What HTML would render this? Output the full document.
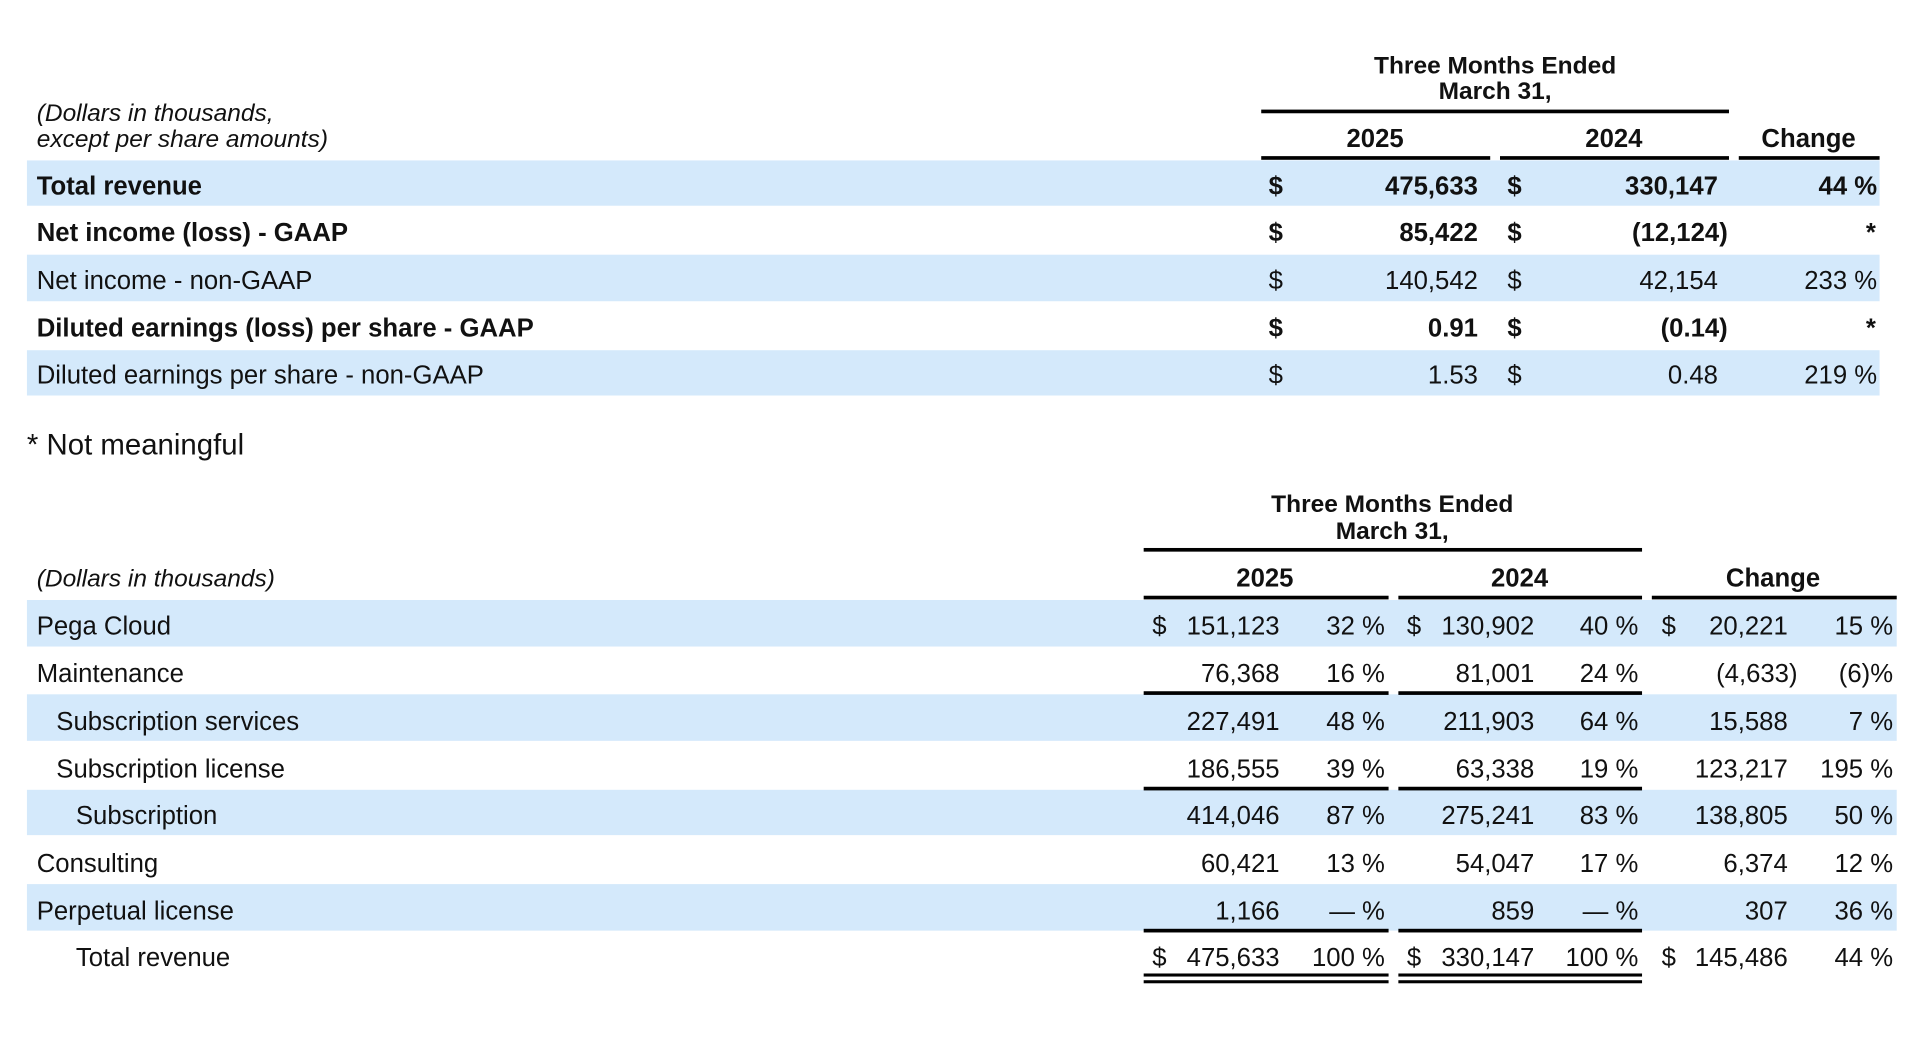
<!DOCTYPE html>
<html><head><meta charset="utf-8"><style>
html,body{margin:0;padding:0;background:#fff;width:1920px;height:1039px;overflow:hidden}
svg{display:block}
text{font-family:"Liberation Sans",sans-serif;font-size:21px;fill:#111}
.b{font-weight:bold}
.i{font-style:italic}
.e{text-anchor:end}
.m{text-anchor:middle}
</style></head><body>
<svg width="1920" height="1039" viewBox="0 0 1568 848.5" preserveAspectRatio="none">
<g fill="#d4e9fb">
<rect x="22" y="131" width="1513" height="37"/>
<rect x="22" y="208" width="1513" height="38"/>
<rect x="22" y="286" width="1513" height="37"/>
<rect x="22" y="490" width="1527" height="38"/>
<rect x="22" y="567" width="1527" height="38"/>
<rect x="22" y="645" width="1527" height="37"/>
<rect x="22" y="722" width="1527" height="38"/>
</g>
<g fill="#000">
<rect x="1030" y="89.5" width="382" height="3"/>
<rect x="1030" y="127.5" width="187" height="3"/>
<rect x="1225" y="127.5" width="187" height="3"/>
<rect x="1420" y="127.5" width="115" height="3"/>
<rect x="934" y="447.5" width="407" height="3"/>
<rect x="934" y="486.5" width="200" height="3"/>
<rect x="1142" y="486.5" width="199" height="3"/>
<rect x="1349" y="486.5" width="200" height="3"/>
<rect x="934" y="564.5" width="200" height="3"/>
<rect x="1142" y="564.5" width="199" height="3"/>
<rect x="934" y="642.5" width="200" height="3"/>
<rect x="1142" y="642.5" width="199" height="3"/>
<rect x="934" y="758.5" width="200" height="3"/>
<rect x="1142" y="758.5" width="199" height="3"/>
<rect x="934" y="795" width="200" height="2.5"/>
<rect x="1142" y="795" width="199" height="2.5"/>
<rect x="934" y="800.5" width="200" height="2.5"/>
<rect x="1142" y="800.5" width="199" height="2.5"/>
</g>
<text class="b m" x="1221" y="60" style="font-size:20px">Three Months Ended</text>
<text class="b m" x="1221" y="81" style="font-size:20px">March 31,</text>
<text class="i" x="30" y="99" style="font-size:20px">(Dollars in thousands,</text>
<text class="i" x="30" y="120" style="font-size:20px">except per share amounts)</text>
<text class="b m" x="1123" y="120">2025</text>
<text class="b m" x="1318" y="120">2024</text>
<text class="b m" x="1477" y="120">Change</text>

<text class="b" x="30" y="159">Total revenue</text>
<text class="b" x="1036" y="159">$</text><text class="b e" x="1207" y="159">475,633</text>
<text class="b" x="1231" y="159">$</text><text class="b e" x="1403" y="159">330,147</text>
<text class="b e" x="1533" y="159">44 %</text>

<text class="b" x="30" y="197">Net income (loss) - GAAP</text>
<text class="b" x="1036" y="197">$</text><text class="b e" x="1207" y="197">85,422</text>
<text class="b" x="1231" y="197">$</text><text class="b e" x="1411" y="197">(12,124)</text>
<text class="b e" x="1532" y="197">*</text>

<text x="30" y="236">Net income - non-GAAP</text>
<text x="1036" y="236">$</text><text class="e" x="1207" y="236">140,542</text>
<text x="1231" y="236">$</text><text class="e" x="1403" y="236">42,154</text>
<text class="e" x="1533" y="236">233 %</text>

<text class="b" x="30" y="275">Diluted earnings (loss) per share - GAAP</text>
<text class="b" x="1036" y="275">$</text><text class="b e" x="1207" y="275">0.91</text>
<text class="b" x="1231" y="275">$</text><text class="b e" x="1411" y="275">(0.14)</text>
<text class="b e" x="1532" y="275">*</text>

<text x="30" y="313">Diluted earnings per share - non-GAAP</text>
<text x="1036" y="313">$</text><text class="e" x="1207" y="313">1.53</text>
<text x="1231" y="313">$</text><text class="e" x="1403" y="313">0.48</text>
<text class="e" x="1533" y="313">219 %</text>

<text x="22" y="371" style="font-size:24px">* Not meaningful</text>

<text class="b m" x="1137" y="418" style="font-size:20px">Three Months Ended</text>
<text class="b m" x="1137" y="440" style="font-size:20px">March 31,</text>
<text class="i" x="30" y="479" style="font-size:20px">(Dollars in thousands)</text>
<text class="b m" x="1033" y="479">2025</text>
<text class="b m" x="1241" y="479">2024</text>
<text class="b m" x="1448" y="479">Change</text>

<g>
<text x="30" y="518">Pega Cloud</text>
<text x="941" y="518">$</text><text class="e" x="1045" y="518">151,123</text><text class="e" x="1131" y="518">32 %</text>
<text x="1149" y="518">$</text><text class="e" x="1253" y="518">130,902</text><text class="e" x="1338" y="518">40 %</text>
<text x="1357" y="518">$</text><text class="e" x="1460" y="518">20,221</text><text class="e" x="1546" y="518">15 %</text>

<text x="30" y="557">Maintenance</text>
<text class="e" x="1045" y="557">76,368</text><text class="e" x="1131" y="557">16 %</text>
<text class="e" x="1253" y="557">81,001</text><text class="e" x="1338" y="557">24 %</text>
<text class="e" x="1468" y="557">(4,633)</text><text class="e" x="1546" y="557">(6)%</text>

<text x="46" y="596">Subscription services</text>
<text class="e" x="1045" y="596">227,491</text><text class="e" x="1131" y="596">48 %</text>
<text class="e" x="1253" y="596">211,903</text><text class="e" x="1338" y="596">64 %</text>
<text class="e" x="1460" y="596">15,588</text><text class="e" x="1546" y="596">7 %</text>

<text x="46" y="635">Subscription license</text>
<text class="e" x="1045" y="635">186,555</text><text class="e" x="1131" y="635">39 %</text>
<text class="e" x="1253" y="635">63,338</text><text class="e" x="1338" y="635">19 %</text>
<text class="e" x="1460" y="635">123,217</text><text class="e" x="1546" y="635">195 %</text>

<text x="62" y="673">Subscription</text>
<text class="e" x="1045" y="673">414,046</text><text class="e" x="1131" y="673">87 %</text>
<text class="e" x="1253" y="673">275,241</text><text class="e" x="1338" y="673">83 %</text>
<text class="e" x="1460" y="673">138,805</text><text class="e" x="1546" y="673">50 %</text>

<text x="30" y="712">Consulting</text>
<text class="e" x="1045" y="712">60,421</text><text class="e" x="1131" y="712">13 %</text>
<text class="e" x="1253" y="712">54,047</text><text class="e" x="1338" y="712">17 %</text>
<text class="e" x="1460" y="712">6,374</text><text class="e" x="1546" y="712">12 %</text>

<text x="30" y="751">Perpetual license</text>
<text class="e" x="1045" y="751">1,166</text><text class="e" x="1131" y="751">— %</text>
<text class="e" x="1253" y="751">859</text><text class="e" x="1338" y="751">— %</text>
<text class="e" x="1460" y="751">307</text><text class="e" x="1546" y="751">36 %</text>

<text x="62" y="789">Total revenue</text>
<text x="941" y="789">$</text><text class="e" x="1045" y="789">475,633</text><text class="e" x="1131" y="789">100 %</text>
<text x="1149" y="789">$</text><text class="e" x="1253" y="789">330,147</text><text class="e" x="1338" y="789">100 %</text>
<text x="1357" y="789">$</text><text class="e" x="1460" y="789">145,486</text><text class="e" x="1546" y="789">44 %</text>
</g>
</svg>
</body></html>
